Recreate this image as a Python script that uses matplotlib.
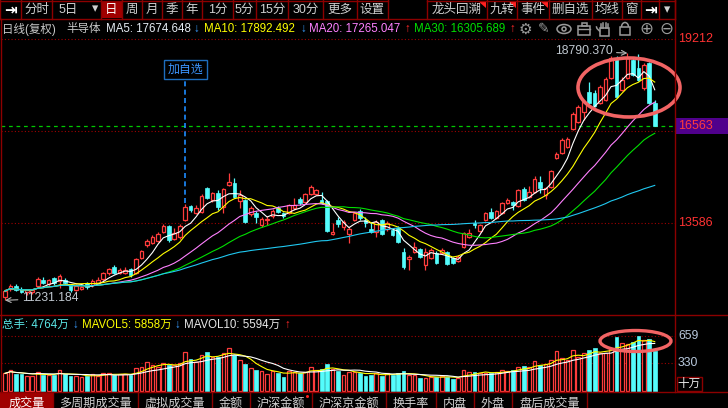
#!/usr/bin/env python3
"""Daily K-line screen of the 半导体 index (复权) with MA lines and volume panel."""

import matplotlib

matplotlib.use("Agg")
import matplotlib.pyplot as plt  # noqa: E402
import numpy as np  # noqa: E402
import pandas as pd  # noqa: E402
from matplotlib import transforms  # noqa: E402
from matplotlib.patches import Ellipse, Polygon, Rectangle  # noqa: E402

plt.rcParams["font.family"] = ["Liberation Sans", "Noto Sans CJK SC", "DejaVu Sans"]

# ---- data (daily bars, oldest first) ----
open_ = [
    11332, 11576, 11668, 11576, 11485, 11485, 11668, 11852, 11729, 11913,
    11821, 11852, 11699, 11546, 11576, 11760, 11699, 11760, 11882, 12066,
    12249, 12066, 12066, 12188, 12066, 12524, 12922, 12983, 13044, 13319,
    13503, 13106, 13167, 13686, 14115, 13900, 13931, 14665, 14298, 14512,
    14084, 14757, 14818, 14267, 14298, 13870, 13900, 13534, 13686, 13809,
    14053, 13900, 13900, 14053, 14329, 14237, 14482, 14482, 14298, 14267,
    13258, 13686, 13472, 13258, 13686, 13962, 13686, 13411, 13319, 13686,
    13411, 13381, 13442, 12708, 12494, 12708, 12800, 12310, 12524, 12677,
    12677, 12708, 12524, 12433, 12861, 13167, 13595, 13350, 13686, 13931,
    13748, 13900, 14206, 14237, 14115, 14634, 14390, 14543, 14848, 14451,
    14696, 15582, 15735, 15919, 16469, 16683, 16989, 17601, 17570, 17264,
    17356, 18029, 18640, 17662, 18029, 18579, 18335, 17723, 18488, 17264,
]
high = [
    11576, 11729, 11729, 11638, 11576, 11576, 11943, 11943, 11882, 11943,
    12035, 11913, 11729, 11729, 11668, 11791, 11882, 11943, 12096, 12219,
    12310, 12219, 12249, 12219, 12524, 12769, 13106, 13228, 13319, 13564,
    13534, 13442, 13564, 14176, 14145, 14145, 14482, 14696, 14543, 14604,
    14665, 15124, 14971, 14604, 14329, 14115, 13962, 13778, 13809, 14023,
    14115, 13931, 14176, 14359, 14390, 14512, 14757, 14634, 14543, 14298,
    13595, 13778, 13686, 13472, 13931, 14023, 13778, 13625, 13686, 13717,
    13656, 13411, 13503, 12830, 12616, 13014, 12830, 12830, 12830, 12739,
    12830, 12739, 12555, 12616, 13319, 13411, 13686, 13564, 13931, 14053,
    13992, 14237, 14359, 14267, 14634, 14696, 14726, 15032, 15032, 14696,
    15215, 15766, 16194, 16225, 16989, 17203, 17356, 17906, 17662, 17815,
    18059, 18702, 18702, 18059, 18790, 18671, 18760, 18488, 18518, 17356,
]
low = [
    11231, 11515, 11515, 11454, 11393, 11424, 11607, 11729, 11668, 11699,
    11607, 11699, 11485, 11515, 11546, 11576, 11638, 11729, 11821, 12005,
    12035, 12035, 12035, 11943, 12035, 12494, 12861, 12953, 13014, 13289,
    13014, 13075, 13106, 13656, 13931, 13870, 13900, 14329, 14237, 13992,
    13900, 14726, 14359, 14053, 13595, 13809, 13595, 13472, 13534, 13748,
    13900, 13748, 13870, 13992, 14145, 14206, 14451, 14451, 14176, 13319,
    13228, 13472, 13381, 12983, 13656, 13686, 13472, 13289, 13167, 13228,
    13350, 13197, 12983, 12188, 12158, 12677, 12524, 12158, 12494, 12341,
    12647, 12310, 12341, 12402, 12830, 13136, 13442, 13319, 13656, 13717,
    13717, 13870, 14176, 13992, 14084, 14267, 14359, 14512, 14512, 14329,
    14665, 15552, 15705, 15888, 16439, 16653, 16744, 17234, 17142, 17234,
    17325, 17998, 17417, 17631, 17998, 18090, 17937, 17662, 17234, 16561,
]
close = [
    11515, 11668, 11546, 11485, 11546, 11546, 11882, 11760, 11852, 11760,
    11974, 11760, 11546, 11668, 11638, 11638, 11821, 11852, 12066, 12188,
    12066, 12158, 12158, 12005, 12494, 12739, 13044, 13167, 13258, 13503,
    13075, 13289, 13503, 14084, 13992, 14053, 14420, 14359, 14512, 14084,
    14634, 14848, 14390, 14451, 13625, 14053, 13778, 13717, 13717, 13962,
    13931, 13809, 14145, 14145, 14206, 14482, 14696, 14604, 14206, 13350,
    13319, 13564, 13625, 13411, 13900, 13748, 13595, 13319, 13625, 13258,
    13595, 13228, 13014, 12249, 12555, 12861, 12555, 12708, 12769, 12372,
    12769, 12341, 12372, 12555, 13289, 13289, 13534, 13534, 13900, 13748,
    13962, 14206, 14298, 14145, 14604, 14298, 14543, 14940, 14665, 14665,
    15185, 15705, 16133, 16163, 16928, 17142, 17295, 17264, 17173, 17754,
    17998, 18640, 17448, 17968, 18640, 18121, 17968, 18426, 17264, 16563,
]
# volume in 十万手
volume = [
    209, 249, 201, 201, 181, 181, 229, 189, 189, 189,
    249, 197, 181, 177, 169, 177, 197, 181, 209, 209,
    189, 201, 201, 189, 269, 289, 350, 310, 289, 330,
    310, 310, 330, 470, 378, 350, 430, 470, 410, 410,
    450, 510, 430, 370, 322, 269, 249, 241, 201, 241,
    209, 169, 237, 229, 209, 229, 289, 249, 257, 318,
    257, 237, 189, 229, 229, 209, 177, 189, 209, 181,
    209, 189, 209, 237, 189, 189, 149, 149, 169, 169,
    177, 169, 137, 149, 249, 229, 229, 209, 209, 209,
    229, 249, 237, 249, 281, 297, 281, 358, 310, 318,
    370, 478, 390, 370, 490, 410, 450, 490, 511, 458,
    458, 498, 651, 571, 559, 591, 659, 611, 619, 476,
]
ma_windows = [5, 10, 20, 30, 60]
mavol_windows = [5, 10]

price_ticks = [19212, 16399, 13586]
vol_ticks = [659, 330]
last_price = 16563
hi_label = "18790.370"
lo_label = "11231.184"

toolbar_left = ["⇥", "分时", "5日", "日", "周", "月", "季", "年", "1分", "5分",
                "15分", "30分", "更多", "设置"]
toolbar_right = ["龙头回溯", "九转", "事件", "删自选", "均线", "窗", "⇥", "▾"]
header_parts = [
    ("日线(复权)", "#c8c8c8"), ("半导体", "#c8c8c8"),
    ("MA5: 17674.648", "#e6ecf4"), ("↓", "#3a9cff"),
    ("MA10: 17892.492", "#ffff00"), ("↓", "#3a9cff"),
    ("MA20: 17265.047", "#ff80ff"), ("↑", "#ff2828"),
    ("MA30: 16305.689", "#00e000"), ("↑", "#ff2828"),
]
vol_header_parts = [
    ("总手: 4764万", "#5ae6e6"), ("↓", "#3a9cff"),
    ("MAVOL5: 5858万", "#ffff00"), ("↓", "#3a9cff"),
    ("MAVOL10: 5594万", "#e8e8e8"), ("↑", "#ff2828"),
]
bottom_tabs = ["成交量", "多周期成交量", "虚拟成交量", "金额", "沪深金额", "沪深京金额",
               "换手率", "内盘", "外盘", "盘后成交量"]

# ---- layout (screen pixels) ----
W, H = 728, 408
RED = "#ff3c3c"
CYAN = "#54fcfc"
FRAME = "#8c0000"
MA_COLORS = ["#ffffff", "#ffff00", "#ff80ff", "#00e000", "#20c8f0"]
X0, DX = 5.0, 5.46            # pixel x of first bar, bar spacing
PX_LEFT, PX_RIGHT = 1, 675     # plot area
Y_HI, Y_LO = 39.3, 223.3       # pixel rows of the top / bottom price ticks
V_Y659, V_Y330 = 336.0, 363.3  # pixel rows of the volume ticks


def rect(x0, y0, x1, y1):
    return [x0 / W, 1 - y1 / H, (x1 - x0) / W, (y1 - y0) / H]


def price_at(y):
    return price_ticks[0] - (y - Y_HI) * (price_ticks[0] - price_ticks[2]) / (Y_LO - Y_HI)


def vol_at(y):
    return vol_ticks[1] + (V_Y330 - y) * (vol_ticks[0] - vol_ticks[1]) / (V_Y330 - V_Y659)


def ax_frac(px):
    return (px - PX_LEFT) / (PX_RIGHT - PX_LEFT)


o = np.array(open_, float)
h = np.array(high, float)
lo_ = np.array(low, float)
c = np.array(close, float)
v = np.array(volume, float)
x = np.arange(len(c))
up = c >= o

fig = plt.figure(figsize=(W / 100, H / 100), dpi=100, facecolor="black")
xlim = ((PX_LEFT - X0) / DX, (PX_RIGHT - X0) / DX)

# ---- price panel ----
ax = fig.add_axes(rect(PX_LEFT, 37, PX_RIGHT, 315))
ax.set_xlim(*xlim)
ax.set_ylim(price_at(315), price_at(37))
ax.axis("off")
for p in price_ticks:
    ax.axhline(p, color="#a00000", ls=(0, (1, 2)), lw=0.8, zorder=1)
ax.axhline(last_price, color="#00c800", ls=(0, (3, 3)), lw=0.9, zorder=1)

ax.vlines(x, lo_, h, colors=np.where(up, RED, CYAN), lw=0.9, zorder=2)
ax.bar(x[up], (c - o)[up], bottom=o[up], width=0.66, facecolor="black",
       edgecolor=RED, lw=0.9, zorder=3)
ax.bar(x[~up], (o - c)[~up], bottom=c[~up], width=0.66, color=CYAN,
       edgecolor=CYAN, lw=0.5, zorder=3)
for n, col in zip(ma_windows, MA_COLORS):
    ma = pd.Series(c).rolling(n, min_periods=1).mean()
    ax.plot(x, ma, color=col, lw=0.8, zorder=4)

# extreme labels
imax, imin = int(np.argmax(h)), int(np.argmin(lo_))
ax.annotate(hi_label, xy=(imax, h[imax]), xytext=(-15, 2), textcoords="offset pixels",
            ha="right", va="center", color="#c0c8d0", fontsize=8.7,
            arrowprops=dict(arrowstyle="->", color="#b4b4b4", lw=0.8, shrinkA=1, shrinkB=0))
ax.annotate(lo_label, xy=(imin, lo_[imin]), xytext=(17, 2), textcoords="offset pixels",
            ha="left", va="center", color="#c0c8d0", fontsize=8.7,
            arrowprops=dict(arrowstyle="->", color="#b4b4b4", lw=0.8, shrinkA=1, shrinkB=0))

# 加自选 marker on bar 33
mark = 33
ax.vlines(mark, h[mark] + 30, price_at(80), colors="#1e8cff", ls=(0, (3, 2)), lw=1.2, zorder=5)
ax.text(mark, price_at(69.5), "加自选", ha="center", va="center", color="#3c96ff",
        fontsize=8.6, zorder=6,
        bbox=dict(boxstyle="square,pad=0.32", fc="black", ec="#1e6ebe", lw=1))

# right price scale (the middle tick sits under the last-price box, as on screen)
ty = transforms.blended_transform_factory(ax.transAxes, ax.transData)
for p in price_ticks:
    ax.text(ax_frac(678), p, str(p), transform=ty, color="#ff3232", fontsize=9,
            va="center", ha="left", clip_on=False, zorder=6)
half = 8.3 * (price_ticks[0] - price_ticks[2]) / (Y_LO - Y_HI)
ax.add_patch(Rectangle((ax_frac(676), last_price - half), ax_frac(728) - ax_frac(676), 2 * half,
                       transform=ty, facecolor="#50008c", edgecolor="none",
                       clip_on=False, zorder=7))
ax.text(ax_frac(678), last_price, str(last_price), transform=ty, color="#ff3c3c",
        fontsize=9, va="center", ha="left", clip_on=False, zorder=8)

# ---- volume panel ----
vax = fig.add_axes(rect(PX_LEFT, 315, PX_RIGHT, 391.7))
vax.set_xlim(*xlim)
vax.set_ylim(vol_at(391.7), vol_at(315))
vax.axis("off")
for t in vol_ticks:
    vax.axhline(t, color="#a00000", ls=(0, (1, 2)), lw=0.8, zorder=1)
vax.bar(x[up], v[up], width=0.68, facecolor="black", edgecolor=RED, lw=0.9, zorder=2)
vax.bar(x[~up], v[~up], width=0.68, color=CYAN, edgecolor=CYAN, lw=0.5, zorder=2)
for n, col in zip(mavol_windows, ["#ffff00", "#ffffff"]):
    vax.plot(x, pd.Series(v).rolling(n, min_periods=1).mean(), color=col, lw=0.8, zorder=3)
tv = transforms.blended_transform_factory(vax.transAxes, vax.transData)
for t in vol_ticks:
    vax.text(ax_frac(678), t, str(t), transform=tv, color="#b8c8dc", fontsize=8.8,
             va="center", ha="left", clip_on=False)

# ---- screen chrome (pixel overlay) ----
ov = fig.add_axes([0, 0, 1, 1], zorder=10)
ov.set_xlim(0, W)
ov.set_ylim(H, 0)
ov.axis("off")


def hline(y, x0, x1, col=FRAME, lw=1):
    ov.plot([x0, x1], [y, y], color=col, lw=lw)


def vline(xp, y0, y1, col=FRAME, lw=1):
    ov.plot([xp, xp], [y0, y1], color=col, lw=lw)


# toolbar
left_edges = [0, 20.7, 52.3, 101, 121.7, 141.7, 161.7, 181.7, 201.7, 233.3, 256, 288.3,
              323.3, 356.7, 387.5]
right_edges = [427.3, 486.7, 517.3, 549, 591.7, 622.3, 641.3, 659, 674.5]
ov.add_patch(Rectangle((101, 0.5), 20.7, 17.5, facecolor="#a00000", edgecolor="none"))
for edges, labels in ((left_edges, toolbar_left), (right_edges, toolbar_right)):
    hline(0.5, edges[0], edges[-1])
    for e in edges:
        vline(e, 0, 18.5)
    for a, b, lab in zip(edges[:-1], edges[1:], labels):
        cx = (a + b) / 2
        fam = ["DejaVu Sans"] if lab in ("⇥", "▾") else None
        col = "#ffffff" if lab in ("日", "⇥") else "#d0d0d0"
        if lab == "5日":
            ov.text(68, 9.5, lab, ha="center", va="center", color=col, fontsize=9)
            ov.text(95, 9, "▾", ha="center", va="center", color=col, fontsize=9,
                    family=["DejaVu Sans"])
            continue
        ov.text(cx, 9.5, lab, ha="center", va="center", color=col,
                fontsize=11 if lab == "⇥" else 9, family=fam,
                fontweight="bold" if lab == "⇥" else "normal")
for k in range(3):
    xr = right_edges[k + 1] - 1
    ov.add_patch(Polygon([(xr - 8, 1), (xr, 1), (xr, 8)], closed=True,
                         facecolor="#ff2020", edgecolor="none"))
hline(18.5, 0, 675)

# header row
hx = [2, 66, 106, 193, 204, 300, 309, 404, 414, 509]
for xp, (txt, col) in zip(hx, header_parts):
    ov.text(xp, 29, txt, ha="left", va="center", color=col, fontsize=8.3)

# tool icons: gear, pen, eye, toolbox, hand, lock, zoom in / out
icon_col = "#9a9a9a"
ov.text(525, 29, "⚙", ha="center", va="center", color=icon_col, fontsize=11,
        family=["DejaVu Sans"])
ov.text(544, 29, "✎", ha="center", va="center", color=icon_col, fontsize=10,
        family=["DejaVu Sans"])
ov.add_patch(Ellipse((564, 29), 14, 9, fill=False, ec=icon_col, lw=1.1))
ov.add_patch(Ellipse((564, 29), 4, 4, fill=False, ec=icon_col, lw=1.1))
ov.add_patch(Rectangle((578, 25.5), 12, 9, fill=False, ec=icon_col, lw=1.1))
ov.add_patch(Rectangle((581.5, 22.5), 5, 3, fill=False, ec=icon_col, lw=1.1))
hline(29, 578, 590, icon_col)
# hand outline
ov.add_patch(Rectangle((599.5, 28), 9, 7.5, fill=False, ec=icon_col, lw=1.1))
for fx, top in zip([600.5, 603, 605.5, 608], [24, 22.5, 22.5, 24]):
    vline(fx, top, 28, icon_col, 1.1)
ov.plot([599.5, 597, 596.5], [31, 28.5, 27], color=icon_col, lw=1.1)
# lock
ov.add_patch(Ellipse((625, 27), 7, 9, fill=False, ec=icon_col, lw=1.1))
ov.add_patch(Rectangle((620, 27), 10, 8, facecolor="black", ec=icon_col, lw=1.1))
ov.text(646, 29, "⊕", ha="center", va="center", color=icon_col, fontsize=12,
        family=["DejaVu Sans"])
ov.text(666, 29, "⊖", ha="center", va="center", color=icon_col, fontsize=12,
        family=["DejaVu Sans"])

# frames
vline(675, 0, 392)
vline(1, 18.5, 392)
hline(315, 0, W)
hline(391.7, 0, W)

# volume header
vx = [2, 72, 82, 174, 184, 284]
for xp, (txt, col) in zip(vx, vol_header_parts):
    ov.text(xp, 325, txt, ha="left", va="center", color=col, fontsize=8.3)

# 十万 unit box
ov.add_patch(Rectangle((676.5, 377), 25, 13.5, fill=False, ec=FRAME, lw=1))
ov.text(689, 384, "十万", ha="center", va="center", color="#f0f0f0", fontsize=8.3)

# bottom tabs
tab_edges = [0, 52.7, 138.3, 212.3, 250, 311.7, 385.7, 435.7, 474, 512.3, 586.7]
ov.add_patch(Rectangle((0, 392.3), 52.7, 16, facecolor="#a00000", edgecolor="none"))
for e in tab_edges[1:]:
    vline(e, 392, H)
for a, b, lab in zip(tab_edges[:-1], tab_edges[1:], bottom_tabs):
    ov.text((a + b) / 2, 403.5, lab, ha="center", va="center", fontsize=8.7,
            color="#ffffff" if lab == "成交量" else "#d0d0d0")
ov.add_patch(Ellipse((307.5, 396.5), 3, 3, facecolor="#ff2020", edgecolor="none"))

# hand-drawn red circles
ov.add_patch(Ellipse((629, 87.5), 102, 59, fill=False, ec="#f26464", lw=2.6))
ov.add_patch(Ellipse((635.5, 341), 71, 21, fill=False, ec="#f26464", lw=2.4))

fig.savefig("out.png", dpi=100, facecolor="black")
print("wrote out.png")
